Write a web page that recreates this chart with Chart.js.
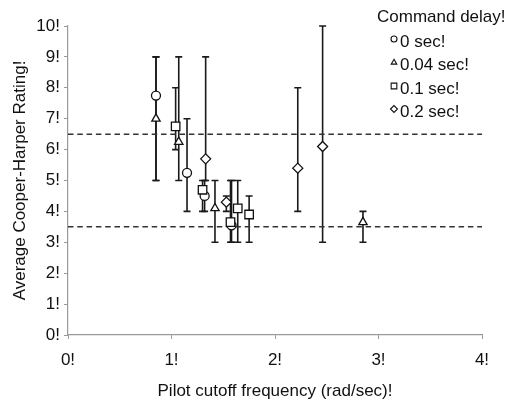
<!DOCTYPE html>
<html>
<head>
<meta charset="utf-8">
<script src="https://cdn.jsdelivr.net/npm/chart.js@4.4.1/dist/chart.umd.min.js"></script>
<style>
  html, body { margin: 0; padding: 0; background: #fff; }
  #wrap { width: 508px; height: 405px; position: relative; }
</style>
</head>
<body>
<div id="wrap"><canvas id="c" width="508" height="405"></canvas></div>
<script>
// Pilot cutoff frequency (rad/sec) and average Cooper-Harper rating, per command delay
const seriesNames = ['0 sec!', '0.04 sec!', '0.1 sec!', '0.2 sec!'];
const markerStyles = ['circle', 'triangle', 'rect', 'rectRot'];

const delay0X   = [0.85, 1.15, 1.32, 1.58];
const delay0Y   = [7.75, 5.25, 4.5, 3.55];
const delay0Lo  = [5, 4, 4, 3];
const delay0Hi  = [9, 7, 5, 5];

const delay004X  = [0.85, 1.07, 1.42, 2.85];
const delay004Y  = [7.0, 6.25, 4.1, 3.65];
const delay004Lo = [5, 5, 3, 3];
const delay004Hi = [9, 9, 5, 4];

const delay01X  = [1.04, 1.30, 1.57, 1.64, 1.75];
const delay01Y  = [6.75, 4.7, 3.65, 4.1, 3.9];
const delay01Lo = [6, 4, 3, 3, 3];
const delay01Hi = [8, 5, 5, 5, 4.5];

const delay02X  = [1.33, 1.53, 2.22, 2.46];
const delay02Y  = [5.7, 4.3, 5.4, 6.1];
const delay02Lo = [5, 4, 4, 3];
const delay02Hi = [9, 4.5, 8, 10];

// Handling-quality level boundaries
const levelLines = [6.5, 3.5];

const xTickLabels = ['0!', '1!', '2!', '3!', '4!'];
const yTickLabels = ['0!', '1!', '2!', '3!', '4!', '5!', '6!', '7!', '8!', '9!', '10!'];
const legendTitle = 'Command delay!';
const xTitle = 'Pilot cutoff frequency (rad/sec)!';
const yTitle = 'Average Cooper-Harper Rating!';

const FONT = '"Liberation Sans", Arial, sans-serif';
const FS = 17;
const INK = '#111';

// marker radius per style so that all shapes look about the same size
const markerRadius = { circle: 4.5, triangle: 4.8, rect: 6, rectRot: 5 };
const legendRadius = { circle: 3, triangle: 3.2, rect: 4, rectRot: 3.5 };

function pointsOf(xs, ys, lo, hi) {
  return xs.map((x, i) => ({ x: x, y: ys[i], lo: lo[i], hi: hi[i] }));
}

const groups = [
  pointsOf(delay0X, delay0Y, delay0Lo, delay0Hi),
  pointsOf(delay004X, delay004Y, delay004Lo, delay004Hi),
  pointsOf(delay01X, delay01Y, delay01Lo, delay01Hi),
  pointsOf(delay02X, delay02Y, delay02Lo, delay02Hi)
];

const datasets = groups.map((pts, i) => ({
  label: seriesNames[i],
  data: pts,
  showLine: false,
  pointStyle: markerStyles[i],
  pointRadius: markerRadius[markerStyles[i]],
  pointHoverRadius: markerRadius[markerStyles[i]],
  pointBackgroundColor: '#fff',
  pointBorderColor: '#111',
  pointBorderWidth: 1.3,
  order: 4 - i,
  errorBars: true
}));

levelLines.forEach(v => {
  datasets.push({
    label: 'level',
    data: [{ x: 0, y: v }, { x: 4, y: v }],
    showLine: true,
    borderColor: '#333',
    borderWidth: 1.5,
    borderDash: [5.5, 3.8],
    pointRadius: 0,
    order: 10
  });
});

// Vertical min–max whiskers behind each marker
const errorBarPlugin = {
  id: 'errorBars',
  beforeDatasetsDraw(chart) {
    const { ctx, scales: { x, y } } = chart;
    ctx.save();
    ctx.strokeStyle = '#1a1a1a';
    ctx.lineWidth = 1.6;
    chart.data.datasets.forEach(ds => {
      if (!ds.errorBars) return;
      ds.data.forEach(p => {
        const px = x.getPixelForValue(p.x);
        const top = y.getPixelForValue(p.hi);
        const bot = y.getPixelForValue(p.lo);
        ctx.beginPath();
        ctx.moveTo(px, top); ctx.lineTo(px, bot);
        ctx.moveTo(px - 3.5, top); ctx.lineTo(px + 3.5, top);
        ctx.moveTo(px - 3.5, bot); ctx.lineTo(px + 3.5, bot);
        ctx.stroke();
      });
    });
    ctx.restore();
  }
};

// Legend block in the upper right corner
const legendPlugin = {
  id: 'delayLegend',
  afterDraw(chart) {
    const ctx = chart.ctx;
    ctx.save();
    ctx.fillStyle = INK;
    ctx.font = FS + 'px ' + FONT;
    ctx.textBaseline = 'middle';
    ctx.textAlign = 'left';
    ctx.fillText(legendTitle, 377, 17);
    const rows = [42, 65.5, 89, 112];
    seriesNames.forEach((name, i) => {
      ctx.fillStyle = '#fff';
      ctx.strokeStyle = '#111';
      ctx.lineWidth = 1.1;
      Chart.helpers.drawPoint(ctx, {
        pointStyle: markerStyles[i],
        radius: legendRadius[markerStyles[i]],
        borderWidth: 1.1
      }, 394, rows[i] - 3);
      ctx.fillStyle = INK;
      ctx.fillText(name, 400, rows[i]);
    });
    ctx.restore();
  }
};

new Chart(document.getElementById('c'), {
  type: 'scatter',
  data: { datasets },
  options: {
    responsive: false,
    animation: false,
    events: [],
    layout: { padding: { top: 26, right: 26, left: 0, bottom: 0 } },
    plugins: { legend: { display: false }, tooltip: { enabled: false } },
    scales: {
      x: {
        type: 'linear', min: 0, max: 4,
        afterFit(s) { s.height = 70; },
        afterBuildTicks(s) { s.ticks = xTickLabels.map((_, i) => ({ value: i })); },
        ticks: {
          callback: (v, i) => xTickLabels[i],
          color: INK, font: { family: FONT, size: FS }, padding: 11, maxRotation: 0
        },
        grid: { drawOnChartArea: false, color: '#9a9a9a', tickLength: 4, lineWidth: 1 },
        border: { color: '#9a9a9a', width: 1.2 },
        title: {
          display: true, text: xTitle, color: INK,
          font: { family: FONT, size: FS }, padding: { top: 0, bottom: 3 }
        }
      },
      y: {
        type: 'linear', min: 0, max: 10,
        afterFit(s) { s.width = 68; },
        afterBuildTicks(s) { s.ticks = yTickLabels.map((_, i) => ({ value: i })); },
        ticks: {
          callback: (v, i) => yTickLabels[i],
          color: INK, font: { family: FONT, size: FS }, padding: 4
        },
        grid: { drawOnChartArea: false, color: '#9a9a9a', tickLength: 4, lineWidth: 1 },
        border: { color: '#9a9a9a', width: 1.2 },
        title: {
          display: true, text: yTitle, color: INK,
          font: { family: FONT, size: FS }, padding: { top: 10, bottom: 0 }
        }
      }
    }
  },
  plugins: [errorBarPlugin, legendPlugin]
});
</script>
</body>
</html>
